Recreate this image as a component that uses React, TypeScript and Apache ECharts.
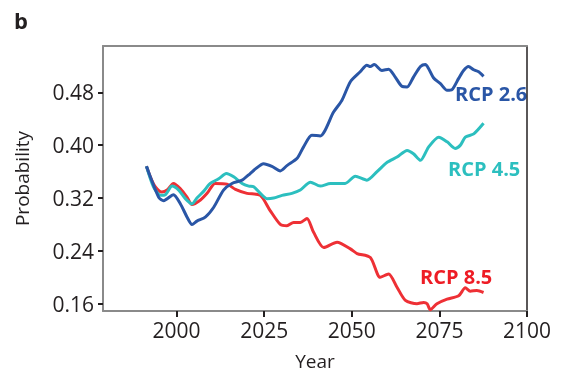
import React, { useEffect, useRef } from "react";
import * as echarts from "echarts";

const xTicks = [2000, 2025, 2050, 2075, 2100];
const yTicks = [0.16, 0.24, 0.32, 0.40, 0.48];

const rcp26Years = [1991.4, 1994.9, 1996.3, 1999.1, 2001.1, 2003.0, 2004.4, 2005.8, 2008.2, 2010.6, 2013.4, 2015.8, 2018.7, 2021.0, 2022.5, 2024.8, 2027.2, 2029.6, 2031.5, 2034.4, 2036.2, 2038.6, 2041.0, 2044.8, 2047.2, 2049.6, 2052.4, 2054.3, 2055.3, 2056.4, 2058.6, 2060.5, 2062.4, 2064.3, 2065.8, 2067.6, 2069.6, 2071.0, 2071.9, 2073.3, 2075.3, 2077.2, 2078.6, 2080.5, 2081.9, 2083.3, 2084.8, 2086.2, 2087.6];
const rcp26Values = [0.368, 0.321, 0.316, 0.325, 0.311, 0.291, 0.280, 0.285, 0.291, 0.306, 0.332, 0.342, 0.347, 0.357, 0.364, 0.372, 0.368, 0.361, 0.369, 0.380, 0.397, 0.415, 0.414, 0.450, 0.468, 0.496, 0.511, 0.521, 0.519, 0.522, 0.513, 0.515, 0.503, 0.489, 0.488, 0.503, 0.519, 0.522, 0.516, 0.502, 0.493, 0.483, 0.484, 0.501, 0.513, 0.519, 0.514, 0.511, 0.504];

const rcp45Years = [1991.4, 1993.4, 1995.4, 1996.8, 1998.7, 2000.6, 2002.5, 2004.4, 2005.8, 2007.7, 2009.6, 2012.0, 2014.2, 2016.3, 2018.7, 2020.6, 2022.0, 2023.9, 2025.8, 2027.7, 2030.1, 2032.9, 2035.3, 2038.2, 2041.0, 2043.9, 2048.1, 2051.0, 2054.3, 2057.2, 2060.1, 2062.9, 2065.8, 2067.6, 2069.6, 2071.9, 2074.8, 2077.2, 2079.5, 2081.0, 2082.4, 2084.8, 2087.6];
const rcp45Values = [0.368, 0.337, 0.324, 0.325, 0.338, 0.332, 0.319, 0.311, 0.320, 0.330, 0.342, 0.349, 0.357, 0.352, 0.342, 0.338, 0.337, 0.327, 0.319, 0.320, 0.324, 0.327, 0.332, 0.344, 0.338, 0.342, 0.342, 0.353, 0.347, 0.360, 0.374, 0.382, 0.392, 0.387, 0.377, 0.397, 0.412, 0.405, 0.395, 0.400, 0.412, 0.417, 0.433];

const rcp85Years = [1991.4, 1992.5, 1993.9, 1995.8, 1997.3, 1999.1, 2001.1, 2003.0, 2004.4, 2006.8, 2008.7, 2011.0, 2014.4, 2016.8, 2020.1, 2023.9, 2026.7, 2029.6, 2031.5, 2033.4, 2035.3, 2037.2, 2039.1, 2042.0, 2045.8, 2049.6, 2051.5, 2055.3, 2058.1, 2060.5, 2062.9, 2065.3, 2068.6, 2070.5, 2071.5, 2072.4, 2074.3, 2077.2, 2080.5, 2082.4, 2083.8, 2085.7, 2087.6];
const rcp85Values = [0.368, 0.352, 0.337, 0.329, 0.332, 0.342, 0.334, 0.321, 0.310, 0.317, 0.327, 0.342, 0.341, 0.333, 0.327, 0.324, 0.301, 0.280, 0.278, 0.283, 0.283, 0.289, 0.268, 0.245, 0.253, 0.243, 0.236, 0.230, 0.200, 0.205, 0.185, 0.165, 0.160, 0.162, 0.160, 0.151, 0.160, 0.167, 0.172, 0.184, 0.179, 0.180, 0.177];

const seriesNames = ["RCP 2.6", "RCP 4.5", "RCP 8.5"];
const colors = ["#2a56a6", "#2cbfbf", "#ee3035"];

const zip = (xs: number[], ys: number[]) => xs.map((x, i) => [x, ys[i]]);

export default function App() {
  const ref = useRef<HTMLDivElement>(null);
  useEffect(() => {
    if (!ref.current) return;
    const chart = echarts.init(ref.current, null, { renderer: "svg" });
    const font = "Open Sans";
    const textColor = "#231f20";
    chart.setOption({
      animation: false,
      grid: { left: 103, right: 34, top: 46, bottom: 67 },
      xAxis: [
        {
          type: "value",
          min: 1979,
          max: 2100,
          name: "Year",
          nameLocation: "middle",
          nameGap: 40,
          nameTextStyle: { fontFamily: font, fontSize: 19, color: textColor },
          axisLine: { show: true, lineStyle: { color: "#8a8a8a", width: 2 } },
          axisTick: { show: true, length: 6, customValues: xTicks, lineStyle: { color: "#231f20", width: 2 } },
          axisLabel: {
            customValues: xTicks,
            fontFamily: font,
            fontSize: 21,
            color: textColor,
            margin: 8,
            formatter: (v: number) => String(v),
          },
          splitLine: { show: false },
        },
        {
          type: "value",
          position: "top",
          min: 1979,
          max: 2100,
          axisLine: { show: true, lineStyle: { color: "#8a8a8a", width: 2 } },
          axisTick: { show: false },
          axisLabel: { show: false },
          splitLine: { show: false },
        },
      ],
      yAxis: [
        {
          type: "value",
          min: 0.149,
          max: 0.55,
          name: "Probability",
          nameLocation: "middle",
          nameGap: 72,
          nameTextStyle: { fontFamily: font, fontSize: 19, color: textColor },
          axisLine: { show: true, lineStyle: { color: "#8a8a8a", width: 2 } },
          axisTick: { show: true, length: 5, customValues: yTicks, lineStyle: { color: "#231f20", width: 2 } },
          axisLabel: {
            customValues: yTicks,
            fontFamily: font,
            fontSize: 21,
            color: textColor,
            margin: 9,
            formatter: (v: number) => v.toFixed(2),
          },
          splitLine: { show: false },
        },
        {
          type: "value",
          position: "right",
          min: 0.149,
          max: 0.55,
          axisLine: { show: true, lineStyle: { color: "#231f20", width: 1.5 } },
          axisTick: { show: false },
          axisLabel: { show: false },
          splitLine: { show: false },
        },
      ],
      series: [
        { name: seriesNames[0], type: "line", data: zip(rcp26Years, rcp26Values) },
        { name: seriesNames[1], type: "line", data: zip(rcp45Years, rcp45Values) },
        { name: seriesNames[2], type: "line", data: zip(rcp85Years, rcp85Values) },
      ].map((s, i) => ({
        ...s,
        showSymbol: false,
        smooth: 0.25,
        lineStyle: { color: colors[i], width: 3 },
        itemStyle: { color: colors[i] },
        z: 3 - i,
      })),
      graphic: [
        {
          type: "text",
          left: 14,
          top: 9,
          style: { text: "b", fontFamily: font, fontSize: 22, fontWeight: "bold", fill: "#231f20" },
        },
        {
          type: "text",
          x: 455,
          y: 93,
          style: { text: seriesNames[0], fontFamily: font, fontSize: 20, fontWeight: "bold", fill: colors[0], verticalAlign: "middle" },
        },
        {
          type: "text",
          x: 448,
          y: 168,
          style: { text: seriesNames[1], fontFamily: font, fontSize: 20, fontWeight: "bold", fill: colors[1], verticalAlign: "middle" },
        },
        {
          type: "text",
          x: 420,
          y: 276,
          style: { text: seriesNames[2], fontFamily: font, fontSize: 20, fontWeight: "bold", fill: "#ee1c25", verticalAlign: "middle" },
        },
      ],
    });
    return () => chart.dispose();
  }, []);
  return <div ref={ref} style={{ position: "fixed", left: 0, top: 0, width: 561, height: 378 }} />;
}
